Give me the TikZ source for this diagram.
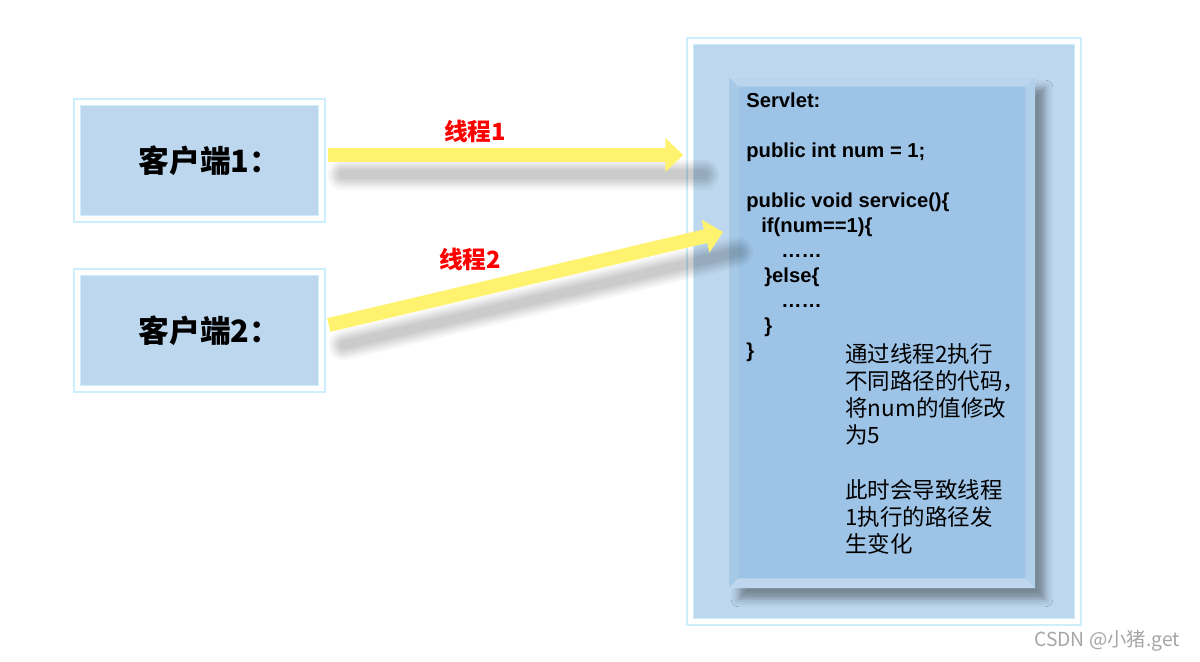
\documentclass[tikz,border=0pt]{standalone}
\usepackage{fontspec}
\setmainfont{Liberation Sans}
\newfontfamily\cjk{Noto Sans CJK SC}
\usetikzlibrary{arrows.meta,shadows.blur}

\definecolor{boxblue}{RGB}{189,215,238}
\definecolor{framecyan}{RGB}{205,238,252}
\definecolor{bodyblue}{RGB}{157,195,230}
\definecolor{threadyellow}{RGB}{255,242,110}
\definecolor{labelred}{RGB}{255,0,0}

\tikzset{
  client/.style={draw=framecyan, line width=0.03cm, double=white, double distance=0.1cm,
    fill=boxblue, minimum width=4.9cm, minimum height=2.34cm,
    font=\cjk\bfseries\fontsize{17.5}{20}\selectfont},
  thread/.style={line width=0.28cm, threadyellow, -{Triangle[width=0.66cm,length=0.36cm]}},
  threadshadow/.style={transform canvas={xshift=0.3cm,yshift=-0.4cm}, black, line cap=round},
  threadlabel/.style={text=labelred, font=\cjk\bfseries\fontsize{13.5}{16}\selectfont},
}

\begin{document}
\begin{tikzpicture}[x=0.02cm, y=-0.02cm]
  \fill[white] (0,0) rectangle (1200,662);
  \useasboundingbox (0,0) rectangle (1200,662);

  % ========================================================
  % 1. CLIENT BOXES (left side)
  % ========================================================
  \node[client] (c1) at (199.5,160.5) {客户端1：\hspace*{-0.4cm}};
  \node[client] (c2) at (199.5,330.5) {客户端2：\hspace*{-0.4cm}};

  % ========================================================
  % 2. SERVLET FRAME AND BODY (right side)
  % ========================================================
  \node[draw=framecyan, line width=0.03cm, double=white, double distance=0.1cm, fill=boxblue,
        minimum width=7.76cm, minimum height=11.62cm] (srv) at (884,331.5) {};
  \node[fill=bodyblue, minimum width=6.12cm, minimum height=10.22cm, inner sep=0,
        blur shadow={shadow xshift=0.2cm, shadow yshift=-0.22cm, shadow blur radius=0.16cm, shadow opacity=38}]
        (body) at (882,332.5) {};

  % bevel edges of the body
  \fill[white, opacity=0.3] (body.north west) -- (body.north east) -- ([shift={(-0.2cm,-0.2cm)}]body.north east) -- ([shift={(0.2cm,-0.2cm)}]body.north west) -- cycle;
  \fill[white, opacity=0.35] (body.south west) -- (body.south east) -- ([shift={(-0.2cm,0.2cm)}]body.south east) -- ([shift={(0.2cm,0.2cm)}]body.south west) -- cycle;
  \fill[white, opacity=0.1] (body.north west) -- (body.south west) -- ([shift={(0.2cm,0.2cm)}]body.south west) -- ([shift={(0.2cm,-0.2cm)}]body.north west) -- cycle;
  \fill[white, opacity=0.2] (body.north east) -- (body.south east) -- ([shift={(-0.2cm,0.2cm)}]body.south east) -- ([shift={(-0.2cm,-0.2cm)}]body.north east) -- cycle;

  % ========================================================
  % 3. CODE AND NOTE TEXT
  % ========================================================
  \node[anchor=north west, inner sep=0, align=left, font=\bfseries\fontsize{11.5}{14.2}\selectfont] (code) at (746,93)
    {Servlet:\\[14.2pt]
     public int num = 1;\\[14.2pt]
     public void service()\{\\
     \hspace*{0.3cm}if(num==1)\{\\
     \hspace*{0.7cm}……\\
     \hspace*{0.36cm}\}else\{\\
     \hspace*{0.7cm}……\\
     \hspace*{0.36cm}\}\\
     \}};

  \node[anchor=north west, inner sep=0, align=left, font=\cjk\fontsize{12.8}{15.5}\selectfont] (note) at (845,343)
    {通过线程2执行\\不同路径的代码，\\将num的值修改\\为5\\[15.5pt]此时会导致线程\\1执行的路径发\\生变化};

  % ========================================================
  % 4. THREAD ARROWS WITH SHADOWS
  % ========================================================
  \coordinate (t1a) at ([xshift=0.1cm,yshift=0.11cm]c1.east);
  \coordinate (t2a) at ([xshift=0.12cm,yshift=0.11cm]c2.east);
  \coordinate (t2b) at (723,232);

  \foreach \w in {0.6,0.5,0.42,0.34,0.26,0.18} {
    \draw[threadshadow, line width=\w cm, opacity=0.035] (t1a) -- (t1a -| srv.west);
    \draw[threadshadow, line width=\w cm, opacity=0.035] (t2a) -- (t2b);
  }

  \draw[thread, shorten >=0.12cm] (t1a) -- (t1a -| srv.west);
  \draw[thread] (t2a) -- (t2b);

  \node[threadlabel] (l1) at (475,131) {线程1};
  \node[threadlabel] (l2) at (470,259) {线程2};

  % watermark
  \node[anchor=east, font=\cjk\fontsize{11}{13}\selectfont, text=gray!70] (mark) at (1186,641) {CSDN @小猪.get};

\end{tikzpicture}
\end{document}
